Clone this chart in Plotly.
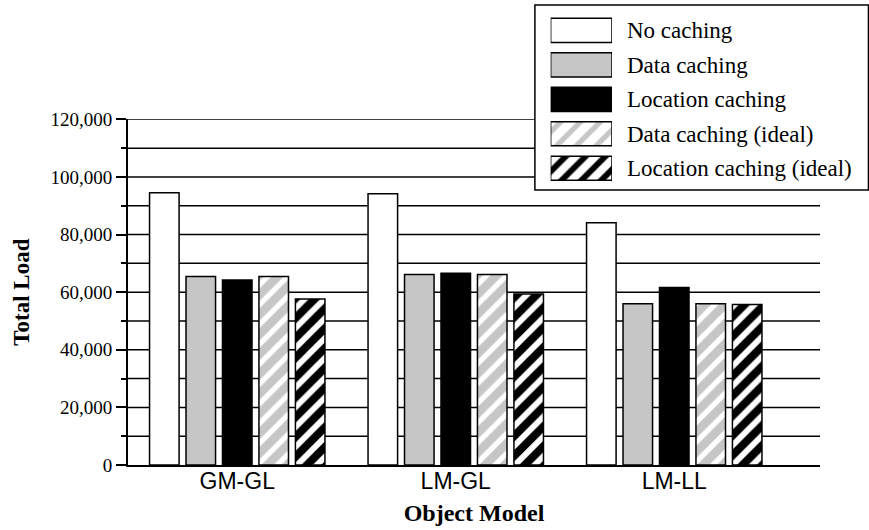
import plotly.graph_objects as go

# ---------------- data ----------------
categories = ["GM-GL", "LM-GL", "LM-LL"]
series_names = ["No caching", "Data caching", "Location caching",
                "Data caching (ideal)", "Location caching (ideal)"]
no_caching = [94500, 94200, 84100]
data_caching = [65400, 66100, 56000]
location_caching = [64200, 66600, 61600]
data_caching_ideal = [65400, 66100, 56000]
location_caching_ideal = [57600, 59400, 55700]
series_values = [no_caching, data_caching, location_caching,
                 data_caching_ideal, location_caching_ideal]
y_max = 120000
y_major = 20000
y_minor = 10000

# ---------------- styles ----------------
GRAY = "#c6c6c6"
fill_colors = ["white", GRAY, "black", GRAY, "black"]
pattern_shapes = ["", "", "", "/", "/"]
pattern_solidity = [0.4, 0.4, 0.4, 0.38, 0.42]
SERIF = "Liberation Serif"
SANS = "Liberation Sans"

Y_DOM_TOP = 0.7434
LEG = dict(x0=0.588, x1=1.07, y0=0.5914, y1=0.989)

fig = go.Figure()
for name, vals, col, shp, sol in zip(series_names, series_values, fill_colors,
                                     pattern_shapes, pattern_solidity):
    fig.add_trace(go.Bar(
        name=name, x=categories, y=vals,
        marker=dict(color=col, line=dict(color="black", width=1.5),
                    pattern=dict(shape=shp, fillmode="replace", bgcolor=col,
                                 fgcolor="white", size=14, solidity=sol)),
        showlegend=False,
    ))

# legend swatches drawn as bars in a small auxiliary subplot
fig.add_trace(go.Bar(
    x=[1] * len(series_names), y=series_names, orientation="h",
    xaxis="x2", yaxis="y2", width=0.7, hoverinfo="skip", showlegend=False,
    marker=dict(color=fill_colors, line=dict(color="black", width=1.5),
                pattern=dict(shape=pattern_shapes, fillmode="replace",
                             bgcolor=fill_colors, fgcolor="white", size=14,
                             solidity=pattern_solidity)),
))

# gridlines (cut where the legend box overlaps the plot)
legend_bottom_value = LEG["y0"] / Y_DOM_TOP * y_max
shapes = []
for v in range(y_minor, y_max + 1, y_minor):
    x1 = LEG["x0"] if v >= legend_bottom_value else 1
    shapes.append(dict(type="line", xref="x domain", yref="y", x0=0, x1=x1,
                       y0=v, y1=v, line=dict(color="black", width=1.5),
                       layer="below"))
shapes.append(dict(type="rect", xref="paper", yref="paper", **LEG,
                   line=dict(color="black", width=1.5), fillcolor="white",
                   layer="below"))

fig.update_layout(
    width=869, height=530,
    margin=dict(l=128, r=49, t=0, b=65, autoexpand=False),
    paper_bgcolor="white", plot_bgcolor="white",
    barmode="group", bargap=0.1655, bargroupgap=0.19,
    showlegend=False,
    shapes=shapes,
    xaxis=dict(
        domain=[0, 1], range=[-0.5, 2.667], showgrid=False, zeroline=False,
        automargin=False,
        showline=True, linecolor="black", linewidth=2, ticks="",
        ticklabelstandoff=-6,
        tickfont=dict(family=SANS, size=23, color="black"),
        title=dict(text="Object Model", standoff=12,
                   font=dict(family=SERIF, size=24, color="black", weight="bold")),
    ),
    yaxis=dict(
        domain=[0, Y_DOM_TOP], range=[0, y_max], dtick=y_major, tickformat=",",
        automargin=False,
        showgrid=False, zeroline=False, showline=True, linecolor="black",
        linewidth=2, ticks="outside", ticklen=10, tickwidth=1.5,
        tickcolor="black",
        minor=dict(dtick=y_minor, ticks="outside", ticklen=5, tickwidth=1.5,
                   tickcolor="black", showgrid=False),
        tickfont=dict(family=SERIF, size=19, color="black"),
        title=dict(text="Total Load", standoff=14,
                   font=dict(family=SERIF, size=23, color="black", weight="bold")),
    ),
    xaxis2=dict(domain=[0.6108, 0.6994], anchor="y2", range=[0, 1],
                automargin=False, visible=False, fixedrange=True),
    yaxis2=dict(domain=[0.601, 0.9719], anchor="x2", side="right",
                automargin=False,
                type="category", categoryarray=series_names,
                categoryorder="array", range=[4.5, -0.5], showgrid=False,
                zeroline=False, showline=False, ticks="", ticklabelstandoff=14,
                tickfont=dict(family=SERIF, size=23, color="black"),
                fixedrange=True),
)

fig.write_html("out.html", config={"displayModeBar": False},
               post_script="document.body.style.margin='0';document.body.style.overflow='hidden';")
